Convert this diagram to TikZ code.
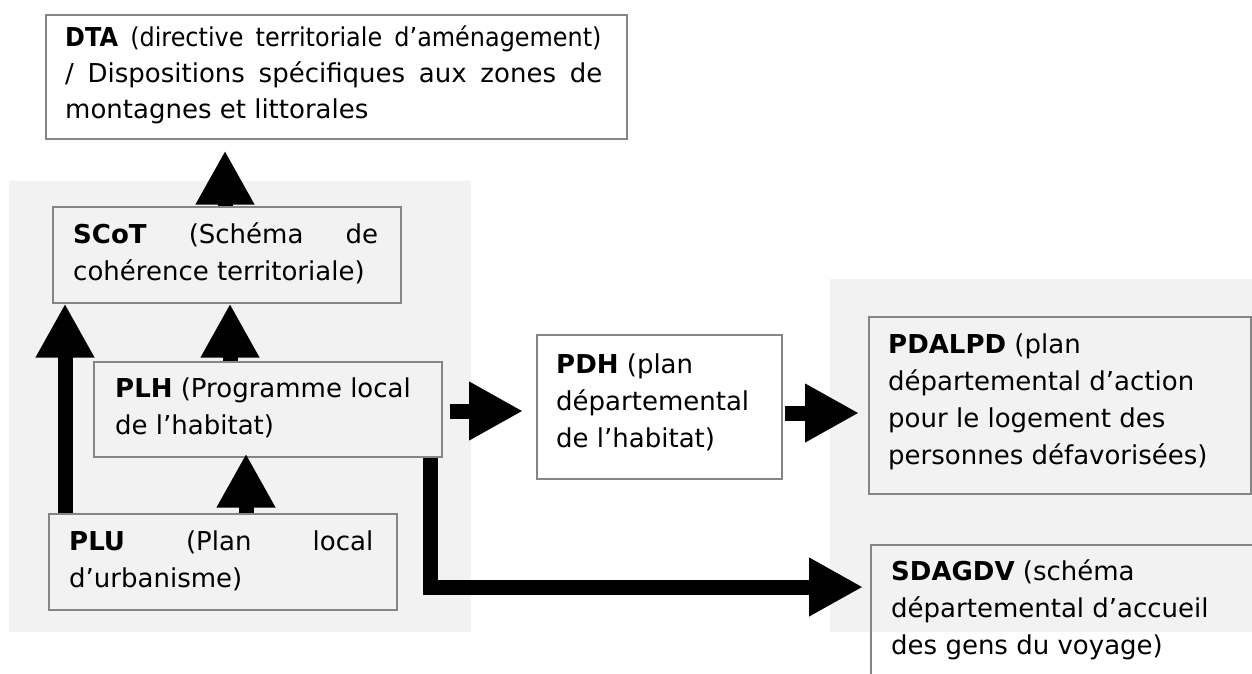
\documentclass[tikz,border=0pt]{standalone}
\usepackage{fontspec}
\setmainfont{DejaVu Sans}
\usetikzlibrary{arrows.meta,calc}
\definecolor{panel}{HTML}{F2F2F2}
\definecolor{boxline}{HTML}{858585}
\newcommand\jline[2]{\hbox to #1{\spaceskip=0.318em plus 1fil\relax #2}}
\newcommand\nline[1]{\hbox{#1}}
\newcommand\txtlines[2]{\vtop{\baselineskip=#1\relax #2}}
\begin{document}
\begin{tikzpicture}[x=1pt,y=-1pt,
  box/.style={draw=boxline,line width=1.6pt,inner sep=0pt,anchor=north west},
  txt/.style={anchor=base west,inner sep=0pt,font=\fontsize{26pt}{37pt}\selectfont},
  warrow/.style={line width=15pt,-{Triangle[width=55pt,length=54pt]}},
]
\useasboundingbox (0,0) rectangle (1252,673);
\clip (0,0) rectangle (1252,673);
% background panels
\fill[panel] (9,181) rectangle (471,632);
\fill[panel] (830,279) rectangle (1260,632);
% boxes
\node[box,fill=white,minimum width=581pt,minimum height=124pt] (dta) at (45,14) {};
\node[box,minimum width=348pt,minimum height=96pt] (scot) at (52,206) {};
\node[box,minimum width=348pt,minimum height=95pt] (plh) at (93,361) {};
\node[box,minimum width=348pt,minimum height=96pt] (plu) at (48,513) {};
\node[box,fill=white,minimum width=245pt,minimum height=144pt] (pdh) at (536,334) {};
\node[box,minimum width=382pt,minimum height=177pt] (pdalpd) at (868,316) {};
\node[box,minimum width=420pt,minimum height=220pt] (sdagdv) at (870,544) {};
% helper coordinates
\coordinate (xa) at (225,0);
\coordinate (xb) at (230,0);
\coordinate (xc) at (246,0);
\coordinate (xd) at (65,0);
\coordinate (xg) at (430,0);
\coordinate (ye) at (0,411);
\coordinate (yf) at (0,413);
\coordinate (yg) at (0,587);
% arrows
\draw[warrow] (scot.north -| xa) -- ($(dta.south -| xa)+(0,11)$);
\draw[warrow] (plh.north -| xb) -- (scot.south -| xb);
\draw[warrow] (plu.north -| xc) -- ($(plh.south -| xc)+(0,-4)$);
\draw[warrow] (plu.north -| xd) -- (scot.south -| xd);
\draw[warrow] ($(plh.east |- ye)+(7,0)$) -- ($(pdh.west |- ye)+(-13,0)$);
\draw[warrow] ($(pdh.east |- yf)+(2,0)$) -- ($(pdalpd.west |- yf)+(-9,0)$);
\draw[warrow] (plh.south -| xg) |- ($(sdagdv.west |- yg)+(-7,0)$);
% texts
\node[txt] (dtat) at (65,46) {\txtlines{36pt}{%
  \hbox{\scalebox{0.92}[1]{\jline{583pt}{\textbf{DTA} (directive territoriale d’aménagement)}}}
  \jline{537pt}{/ Dispositions spécifiques aux zones de}
  \nline{montagnes et littorales}}};
\node[txt] (scott) at (73,243) {\txtlines{37pt}{%
  \jline{305pt}{\textbf{SCoT} (Schéma de}
  \nline{cohérence territoriale)}}};
\node[txt] (plht) at (115,397) {\txtlines{37pt}{%
  \nline{\textbf{PLH} (Programme local}
  \nline{de l’habitat)}}};
\node[txt] (plut) at (69,550) {\txtlines{37pt}{%
  \jline{304pt}{\textbf{PLU} (Plan local}
  \nline{d’urbanisme)}}};
\node[txt] (pdht) at (556,373) {\txtlines{37pt}{%
  \nline{\textbf{PDH} (plan}
  \nline{départemental}
  \nline{de l’habitat)}}};
\node[txt] (pdalpdt) at (888,353) {\txtlines{37pt}{%
  \nline{\textbf{PDALPD} (plan}
  \nline{départemental d’action}
  \nline{pour le logement des}
  \nline{personnes défavorisées)}}};
\node[txt] (sdagdvt) at (891,580) {\txtlines{37pt}{%
  \nline{\textbf{SDAGDV} (schéma}
  \nline{départemental d’accueil}
  \nline{des gens du voyage)}}};
\end{tikzpicture}
\end{document}
